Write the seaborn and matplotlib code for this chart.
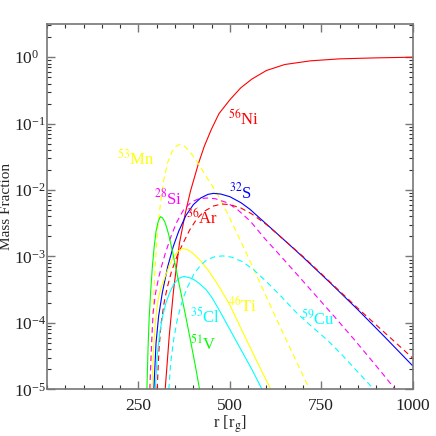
import numpy as np
import pandas as pd
import seaborn as sns
import matplotlib
matplotlib.use('Agg')
import matplotlib.pyplot as plt
from matplotlib.ticker import FixedLocator, MultipleLocator, LogLocator, NullFormatter

# radius [r_g] and mass fraction, one pair per isotope
r_ni56 = [323, 334, 346, 362, 378, 392, 414, 430, 449, 470, 500, 530, 560, 600, 650, 720, 800, 900, 1000]
x_ni56 = [1.0e-5, 6.3e-5, 3.16e-4, 1.58e-3, 4.47e-3, 9.55e-3, 2.51e-2, 4.57e-2, 8.13e-2, 0.141,
          0.229, 0.347, 0.468, 0.631, 0.776, 0.881, 0.944, 0.977, 1.0]

r_mn53 = [281, 288, 295, 302, 310, 319, 330, 342, 353, 364, 376, 390, 405, 419, 440, 465, 495,
          528, 560, 590, 610, 640, 675, 700, 718]
x_mn53 = [1.0e-5, 1.0e-4, 6.31e-4, 2.51e-3, 6.31e-3, 1.41e-2, 2.63e-2, 3.80e-2, 4.57e-2, 4.90e-2,
          4.57e-2, 3.80e-2, 2.95e-2, 2.24e-2, 1.45e-2, 8.91e-3, 4.27e-3, 1.78e-3, 7.41e-4, 3.24e-4,
          1.86e-4, 8.13e-5, 3.16e-5, 1.62e-5, 1.0e-5]

r_si28 = [281, 285, 290, 296, 305, 314, 323, 340, 355, 374, 395, 415, 437, 460, 492, 520, 556,
          597, 640, 690, 740, 790, 840, 890, 920, 952]
x_si28 = [1.0e-5, 3.98e-5, 1.41e-4, 2.69e-4, 4.79e-4, 7.41e-4, 1.10e-3, 2.09e-3, 3.31e-3, 5.13e-3,
          6.61e-3, 7.41e-3, 7.59e-3, 7.41e-3, 6.46e-3, 5.13e-3, 3.39e-3, 1.82e-3, 1.0e-3, 4.90e-4,
          2.40e-4, 1.17e-4, 5.62e-5, 2.63e-5, 1.66e-5, 1.0e-5]

r_s32 = [292, 298, 305, 315, 330, 345, 360, 380, 400, 420, 440, 455, 475, 500, 530, 555, 583,
         620, 650, 700, 775, 850, 925, 1000]
x_s32 = [1.0e-5, 5.01e-5, 1.26e-4, 2.82e-4, 7.08e-4, 1.41e-3, 2.40e-3, 4.17e-3, 6.03e-3, 7.59e-3,
         8.61e-3, 8.91e-3, 8.71e-3, 7.94e-3, 6.46e-3, 5.13e-3, 3.72e-3, 2.45e-3, 1.74e-3, 9.77e-4,
         3.98e-4, 1.58e-4, 6.03e-5, 2.26e-5]

r_ar36 = [301, 306, 312, 320, 328, 340, 355, 370, 390, 410, 430, 455, 478, 500, 530, 560, 600,
          650, 700, 750, 800, 850, 900, 950, 1000]
x_ar36 = [1.0e-5, 3.98e-5, 1.0e-4, 2.0e-4, 3.31e-4, 5.89e-4, 1.0e-3, 1.51e-3, 2.51e-3, 3.72e-3,
          4.79e-3, 5.75e-3, 6.17e-3, 6.03e-3, 5.37e-3, 4.37e-3, 3.02e-3, 1.74e-3, 1.0e-3, 5.50e-4,
          3.02e-4, 1.66e-4, 9.33e-5, 5.25e-5, 2.95e-5]

r_ti46 = [287, 291, 296, 302, 310, 323, 335, 345, 358, 370, 385, 400, 419, 440, 470, 501, 530,
          560, 590, 612]
x_ti46 = [1.0e-5, 3.98e-5, 1.0e-4, 2.0e-4, 3.16e-4, 5.01e-4, 7.41e-4, 9.77e-4, 1.20e-3, 1.32e-3,
          1.26e-3, 1.10e-3, 8.71e-4, 6.31e-4, 3.55e-4, 1.82e-4, 8.32e-5, 3.80e-5, 1.74e-5, 1.0e-5]

r_cl35 = [296, 301, 308, 316, 325, 335, 346, 360, 374, 390, 405, 419, 435, 451, 474, 500, 530,
          560, 588]
x_cl35 = [1.0e-5, 3.16e-5, 7.08e-5, 1.26e-4, 2.0e-4, 2.82e-4, 3.80e-4, 4.68e-4, 5.01e-4, 4.79e-4,
          4.37e-4, 3.80e-4, 3.16e-4, 2.40e-4, 1.45e-4, 7.94e-5, 3.98e-5, 2.0e-5, 1.0e-5]

r_v51 = [273, 276, 279, 283, 288, 293, 298, 304, 310, 316, 322, 328, 333, 342, 351, 365, 378,
         392, 405, 417]
x_v51 = [1.0e-5, 3.98e-5, 1.12e-4, 2.82e-4, 7.08e-4, 1.41e-3, 2.40e-3, 3.39e-3, 3.98e-3, 3.80e-3,
         3.31e-3, 2.63e-3, 2.09e-3, 1.26e-3, 7.24e-4, 3.02e-4, 1.35e-4, 5.50e-5, 2.34e-5, 1.0e-5]

r_cu59 = [333, 338, 346, 355, 365, 374, 385, 401, 420, 437, 460, 481, 505, 535, 565, 600, 640,
          683, 725, 765, 810, 850, 894]
x_cu59 = [1.0e-5, 2.51e-5, 5.50e-5, 1.05e-4, 1.74e-4, 2.51e-4, 3.55e-4, 5.37e-4, 7.41e-4, 8.91e-4,
          1.0e-3, 1.02e-3, 9.77e-4, 8.32e-4, 6.31e-4, 4.17e-4, 2.51e-4, 1.41e-4, 8.71e-5, 5.62e-5,
          3.16e-5, 1.82e-5, 1.0e-5]

# isotope names, label texts and where the labels sit
isotopes = ['56Ni', '53Mn', '28Si', '32S', '36Ar', '46Ti', '35Cl', '51V', '59Cu']
labels = [r'$^{56}$Ni', r'$^{53}$Mn', r'$^{28}$Si', r'$^{32}$S', r'$^{36}$Ar',
          r'$^{46}$Ti', r'$^{35}$Cl', r'$^{51}$V', r'$^{59}$Cu']
label_r = [537, 242, 332, 528, 425, 534, 433, 427, 741]
label_x = [0.117, 0.0295, 0.0074, 0.0093, 0.0038, 1.82e-4, 1.23e-4, 4.8e-5, 1.15e-4]

colors = ['#ff0000', '#ffff00', '#ff00ff', '#0000ff', '#ff0000', '#ffff00', '#00ffff', '#00ff00', '#00ffff']
dashed = [False, True, True, False, True, False, False, False, True]

curves = [(r_ni56, x_ni56), (r_mn53, x_mn53), (r_si28, x_si28), (r_s32, x_s32), (r_ar36, x_ar36),
          (r_ti46, x_ti46), (r_cl35, x_cl35), (r_v51, x_v51), (r_cu59, x_cu59)]

#build one long table
frames = []
for name, (rr, xx) in zip(isotopes, curves):
    frames.append(pd.DataFrame({'r': rr, 'frac': xx, 'isotope': name}))
df = pd.concat(frames, ignore_index=True)

sns.set_theme(style='ticks')
plt.rcParams['font.family'] = ['Liberation Serif', 'DejaVu Serif']
plt.rcParams['mathtext.fontset'] = 'stix'

fig = plt.figure(figsize=(4.36, 4.36), dpi=100)
ax = fig.add_axes([0.108, 0.107, 0.8386, 0.838])

for name, col, dsh in zip(isotopes, colors, dashed):
    sub = df[df['isotope'] == name]
    sns.lineplot(data=sub, x='r', y='frac', color=col, lw=0.8,
                 estimator=None, sort=False, ax=ax)
    if dsh:
        ax.lines[-1].set_dashes((5, 3.5))

for txt, lr, lx, col in zip(labels, label_r, label_x, colors):
    ax.text(lr, lx, txt, color=col, fontsize=12, ha='center', va='center')

ax.set_yscale('log')
ax.set_xlim(0, 1000)
ax.set_ylim(1e-5, 10 ** 0.5)

ax.xaxis.set_major_locator(FixedLocator([250, 500, 750, 1000]))
ax.xaxis.set_minor_locator(MultipleLocator(50))
ax.yaxis.set_major_locator(LogLocator(base=10, numticks=10))
ax.yaxis.set_minor_locator(LogLocator(base=10, subs=np.arange(2, 10), numticks=20))
ax.yaxis.set_minor_formatter(NullFormatter())

ax.tick_params(which='both', direction='in', top=True, right=True, labelsize=12.5, colors='#222222')
ax.tick_params(which='major', length=6, width=1.0, color='#777777')
ax.tick_params(which='minor', length=3, width=0.8, color='#333333')
ax.tick_params(axis='x', which='major', pad=6)
ax.tick_params(axis='y', which='major', pad=24)
for lab in ax.get_yticklabels():
    lab.set_horizontalalignment('left')
for sp in ax.spines.values():
    sp.set_color('#777777')
    sp.set_linewidth(1.2)

ax.set_xlabel(r'r [r$_{\rm g}$]', fontsize=12)
ax.set_ylabel('Mass Fraction', fontsize=11)
ax.xaxis.set_label_coords(0.5, -0.065)
ax.yaxis.set_label_coords(-0.094, 0.5)

fig.savefig('out.png', dpi=100, facecolor='white')
